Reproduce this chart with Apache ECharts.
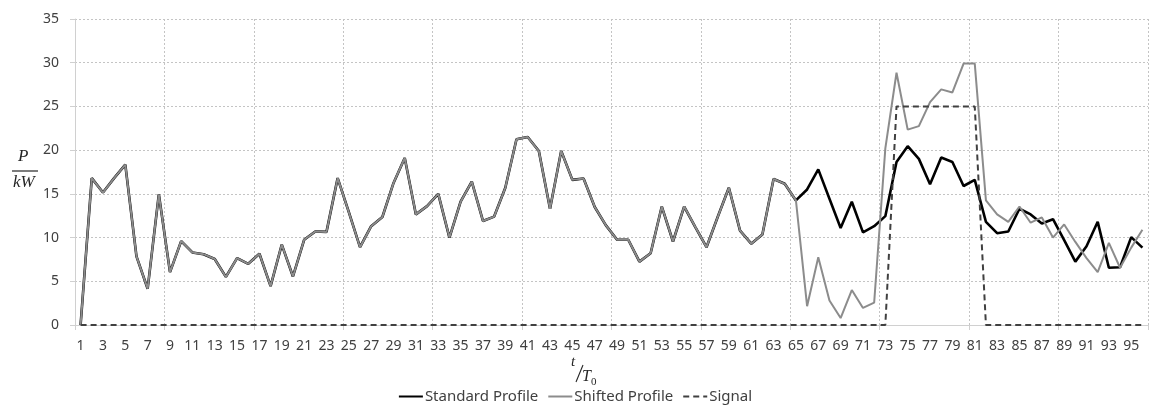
<!DOCTYPE html>
<html>
<head>
<meta charset="utf-8">
<script src="https://cdn.jsdelivr.net/npm/echarts@6/dist/echarts.min.js"></script>
<style>
  html, body { margin: 0; padding: 0; background: #ffffff; }
  #chart { width: 1150px; height: 406px; }
</style>
</head>
<body>
<div id="chart"></div>
<script>
// ---------- data ----------
var categories = [];
for (var i = 1; i <= 96; i++) categories.push(String(i));

var standardProfile = [
  0, 16.8, 15.15, 16.8, 18.35, 7.85, 4.15, 14.95, 6.05, 9.6,
  8.3, 8.1, 7.55, 5.5, 7.65, 7.0, 8.15, 4.45, 9.2, 5.55,
  9.75, 10.7, 10.65, 16.8, 12.9, 8.9, 11.3, 12.35, 16.25, 19.1,
  12.65, 13.6, 15.0, 10.0, 14.1, 16.4, 11.9, 12.4, 15.7, 21.25,
  21.5, 19.9, 13.3, 19.9, 16.6, 16.75, 13.5, 11.4, 9.75, 9.75,
  7.25, 8.2, 13.55, 9.55, 13.55, 11.2, 8.9, 12.35, 15.7, 10.8,
  9.3, 10.35, 16.7, 16.15, 14.25, 15.5, 17.8, 14.45, 11.1, 14.1,
  10.6, 11.3, 12.45, 18.65, 20.45, 19.0, 16.1, 19.15, 18.65, 15.9,
  16.6, 11.8, 10.5, 10.7, 13.3, 12.65, 11.6, 12.1, 9.7, 7.25,
  9.0, 11.8, 6.55, 6.6, 10.05, 8.85
];

var shiftedProfile = [
  0, 16.8, 15.15, 16.8, 18.35, 7.85, 4.15, 14.95, 6.05, 9.6,
  8.3, 8.1, 7.55, 5.5, 7.65, 7.0, 8.15, 4.45, 9.2, 5.55,
  9.75, 10.7, 10.65, 16.8, 12.9, 8.9, 11.3, 12.35, 16.25, 19.1,
  12.65, 13.6, 15.0, 10.0, 14.1, 16.4, 11.9, 12.4, 15.7, 21.25,
  21.5, 19.9, 13.3, 19.9, 16.6, 16.75, 13.5, 11.4, 9.75, 9.75,
  7.25, 8.2, 13.55, 9.55, 13.55, 11.2, 8.9, 12.35, 15.7, 10.8,
  9.3, 10.35, 16.7, 16.15, 14.25, 2.15, 7.75, 2.8, 0.8, 4.0,
  1.95, 2.55, 20.2, 28.85, 22.35, 22.75, 25.5, 26.95, 26.6, 29.9,
  29.9, 14.25, 12.65, 11.8, 13.55, 11.7, 12.3, 10.0, 11.5, 9.5,
  7.65, 6.05, 9.4, 6.55, 8.85, 10.9
];

var signal = [
  0, 0, 0, 0, 0, 0, 0, 0, 0, 0,
  0, 0, 0, 0, 0, 0, 0, 0, 0, 0,
  0, 0, 0, 0, 0, 0, 0, 0, 0, 0,
  0, 0, 0, 0, 0, 0, 0, 0, 0, 0,
  0, 0, 0, 0, 0, 0, 0, 0, 0, 0,
  0, 0, 0, 0, 0, 0, 0, 0, 0, 0,
  0, 0, 0, 0, 0, 0, 0, 0, 0, 0,
  0, 0, 0, 25, 25, 25, 25, 25, 25, 25,
  25, 0, 0, 0, 0, 0, 0, 0, 0, 0,
  0, 0, 0, 0, 0, 0
];

var yTicks = { min: 0, max: 35, interval: 5 };
var seriesNames = ['Standard Profile', 'Shifted Profile', 'Signal'];

// ---------- chart ----------
var chart = echarts.init(document.getElementById('chart'), null, { renderer: 'canvas' });
var labelFont = '"Noto Sans", "Open Sans", sans-serif';
var mathFont = '"Liberation Serif", "DejaVu Serif", serif';

chart.setOption({
  animation: false,
  backgroundColor: '#ffffff',
  grid: { left: 75, right: 2, top: 19, bottom: 81, containLabel: false },
  legend: {
    top: 384,
    left: 'center',
    itemWidth: 24,
    itemHeight: 10,
    itemGap: 9,
    itemStyle: { opacity: 0 },
    textStyle: { fontFamily: labelFont, fontSize: 15, color: '#404040', padding: [0, 0, 0, -3] },
    data: seriesNames
  },
  xAxis: {
    type: 'category',
    data: categories,
    boundaryGap: true,
    axisLine: { show: true, lineStyle: { color: '#d0d0d0', width: 1 } },
    axisTick: { show: true, interval: 7, length: 5, lineStyle: { color: '#d0d0d0' } },
    axisLabel: { interval: 1, margin: 14, fontFamily: labelFont, fontSize: 14, color: '#404040' },
    splitLine: { show: true, interval: 7, lineStyle: { color: '#c4c4c4', type: [2, 2], width: 1 } }
  },
  yAxis: {
    type: 'value',
    min: yTicks.min,
    max: yTicks.max,
    interval: yTicks.interval,
    axisLine: { show: true, lineStyle: { color: '#d0d0d0', width: 1 } },
    axisTick: { show: true, length: 5, lineStyle: { color: '#d0d0d0' } },
    axisLabel: { margin: 16, fontFamily: labelFont, fontSize: 14, color: '#404040' },
    splitLine: { show: true, lineStyle: { color: '#c4c4c4', type: [2, 2], width: 1 } }
  },
  series: [
    {
      name: seriesNames[0],
      type: 'line',
      data: standardProfile,
      symbol: 'none',
      z: 2,
      lineStyle: { color: '#000000', width: 2.6 },
      itemStyle: { color: '#000000' }
    },
    {
      name: seriesNames[1],
      type: 'line',
      data: shiftedProfile,
      symbol: 'none',
      z: 3,
      lineStyle: { color: '#8c8c8c', width: 2 },
      itemStyle: { color: '#8c8c8c' }
    },
    {
      name: seriesNames[2],
      type: 'line',
      data: signal,
      symbol: 'none',
      z: 4,
      lineStyle: { color: '#404040', width: 2, type: [6, 4] },
      itemStyle: { color: '#404040' }
    }
  ],
  graphic: [
    { type: 'text', left: 18, top: 148, style: { text: 'P', font: 'italic 17px ' + mathFont, fill: '#262626' } },
    { type: 'line', shape: { x1: 12, y1: 171, x2: 38, y2: 171 }, style: { stroke: '#262626', lineWidth: 1.2 } },
    { type: 'text', left: 13, top: 174, style: { text: 'kW', font: 'italic 17px ' + mathFont, fill: '#262626' } },
    { type: 'text', left: 571, top: 355, style: { text: 't', font: 'italic 15px ' + mathFont, fill: '#262626' } },
    { type: 'line', shape: { x1: 576, y1: 382, x2: 583, y2: 365 }, style: { stroke: '#262626', lineWidth: 1.1 } },
    { type: 'text', left: 582, top: 369, style: { text: 'T', font: 'italic 16px ' + mathFont, fill: '#262626' } },
    { type: 'text', left: 591, top: 377, style: { text: '0', font: '11px ' + mathFont, fill: '#262626' } }
  ]
});
</script>
</body>
</html>
